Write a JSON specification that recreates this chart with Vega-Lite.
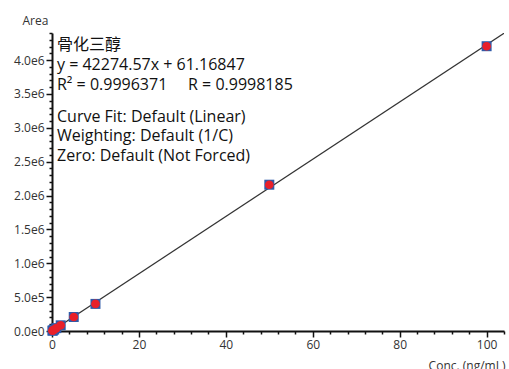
{
  "$schema": "https://vega.github.io/schema/vega-lite/v6.json",
  "width": 452,
  "height": 298,
  "autosize": {"type": "none"},
  "padding": {"left": 52, "top": 33, "right": 5, "bottom": 38},
  "background": "white",
  "config": {
    "view": {"stroke": null},
    "font": "Open Sans",
    "axis": {"labelFont": "Open Sans", "titleFont": "Open Sans", "labelColor": "#333333", "titleColor": "#333333", "titleFontWeight": "normal", "grid": false, "domainColor": "#111111", "domainWidth": 2, "tickColor": "#111111", "tickWidth": 1.5, "labelFontSize": 12, "titleFontSize": 12}
  },
  "datasets": {
    "points": [
      {"conc": 0.1, "area": 4300},
      {"conc": 0.2, "area": 8600},
      {"conc": 0.5, "area": 21000},
      {"conc": 1, "area": 42500},
      {"conc": 2, "area": 84000},
      {"conc": 5, "area": 207000},
      {"conc": 10, "area": 400000},
      {"conc": 50, "area": 2160000},
      {"conc": 100, "area": 4205000}
    ],
    "fit": [
      {"conc": 0, "area": 61.16847},
      {"conc": 104, "area": 4396616.4}
    ],
    "notes": [
      {"block": 1, "label": "骨化三醇\ny = 42274.57x + 61.16847\nR² = 0.9996371\u00a0\u00a0\u00a0\u00a0\u00a0R = 0.9998185"},
      {"block": 2, "label": "Curve Fit: Default (Linear)\nWeighting: Default (1/C)\nZero: Default (Not Forced)"}
    ]
  },
  "layer": [
    {
      "data": {"name": "fit"},
      "mark": {"type": "line", "color": "#333333", "strokeWidth": 1.2, "clip": true},
      "encoding": {
        "x": {
          "field": "conc", "type": "quantitative",
          "scale": {"domain": [0, 104], "nice": false, "zero": false},
          "axis": {
            "title": "Conc. (ng/mL)",
            "values": [0,4,8,12,16,20,24,28,32,36,40,44,48,52,56,60,64,68,72,76,80,84,88,92,96,100,104],
            "tickCount": 40,
            "labelExpr": "datum.value % 20 === 0 ? format(datum.value, 'd') : ''",
            "labelOverlap": false,
            "labelFlush": false,
            "labelBound": false,
            "labelPadding": 2,
            "tickSize": {"condition": {"test": "datum.value % 20 === 0", "value": 6}, "value": 3},
            "titleAlign": "right",
            "titleAnchor": "end",
            "titleX": 453,
            "titleY": 29,
            "titleBaseline": "top"
          }
        },
        "y": {
          "field": "area", "type": "quantitative",
          "scale": {"domain": [0, 4400000], "nice": false, "zero": false},
          "axis": {
            "title": "Area",
            "tickCount": 44,
            "labelExpr": "datum.value % 500000 === 0 ? replace(format(datum.value, '.1e'), '+', '') : ''",
            "labelOverlap": false,
            "labelFlush": false,
            "labelPadding": 2,
            "tickSize": {"condition": {"test": "datum.value % 500000 === 0", "value": 6}, "value": 3},
            "titleAngle": 0,
            "titleAlign": "left",
            "titleBaseline": "middle",
            "titleX": -30,
            "titleY": -13
          }
        }
      }
    },
    {
      "data": {"name": "points"},
      "mark": {"type": "square", "color": "#2f5aa8", "opacity": 1, "size": 100},
      "encoding": {
        "x": {"field": "conc", "type": "quantitative"},
        "y": {"field": "area", "type": "quantitative"}
      }
    },
    {
      "data": {"name": "points"},
      "mark": {"type": "circle", "color": "#e8202a", "opacity": 1, "size": 75},
      "encoding": {
        "x": {"field": "conc", "type": "quantitative"},
        "y": {"field": "area", "type": "quantitative"}
      }
    },
    {
      "data": {"name": "notes"},
      "transform": [{"filter": "datum.block === 1"}],
      "mark": {"type": "text", "align": "left", "baseline": "alphabetic", "font": "Open Sans, Noto Sans CJK SC", "fontSize": 16, "color": "#111111", "lineBreak": "\n", "lineHeight": 20},
      "encoding": {
        "x": {"datum": 1.15},
        "y": {"datum": 4150000},
        "text": {"field": "label"}
      }
    },
    {
      "data": {"name": "notes"},
      "transform": [{"filter": "datum.block === 2"}],
      "mark": {"type": "text", "align": "left", "baseline": "alphabetic", "font": "Open Sans, Noto Sans CJK SC", "fontSize": 16, "color": "#111111", "lineBreak": "\n", "lineHeight": 19.5},
      "encoding": {
        "x": {"datum": 1.15},
        "y": {"datum": 3090000},
        "text": {"field": "label"}
      }
    }
  ]
}
